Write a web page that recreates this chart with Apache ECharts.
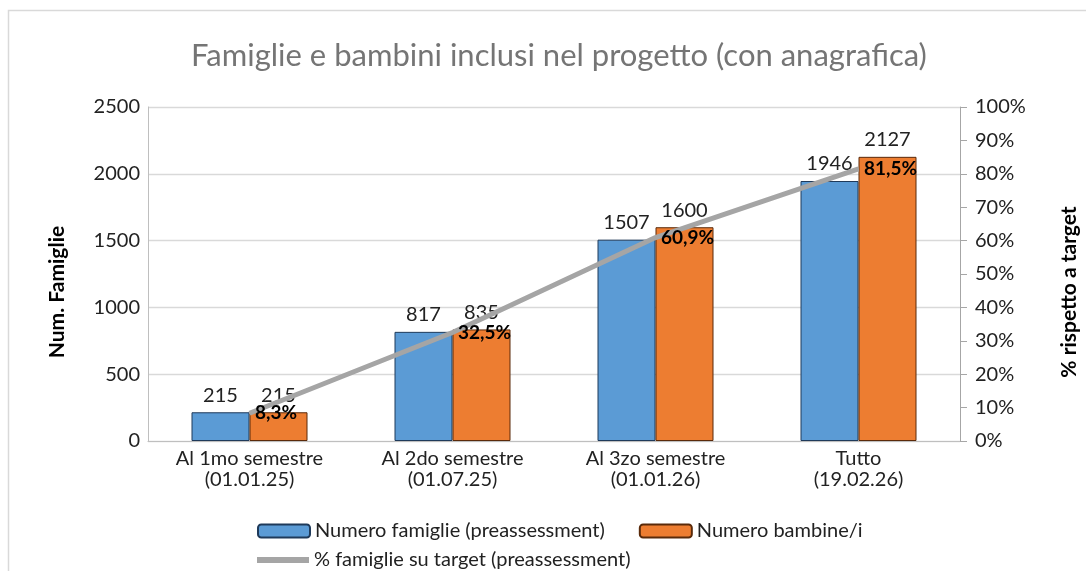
<!DOCTYPE html>
<html><head><meta charset="utf-8">
<script src="https://cdn.jsdelivr.net/npm/echarts@6/dist/echarts.min.js"></script>
<style>html,body{margin:0;padding:0;background:#fff}#c{width:1086px;height:571px}</style>
</head><body><div id="c"></div>
<script>
const categories = ['Al 1mo semestre\n(01.01.25)', 'Al 2do semestre\n(01.07.25)', 'Al 3zo semestre\n(01.01.26)', 'Tutto\n(19.02.26)'];
const famiglie = [215, 817, 1507, 1946];
const bambini = [215, 835, 1600, 2127];
const percentuale = [8.3, 32.5, 60.9, 81.5];
const leftTicks = [0, 2500, 500];
const rightTicks = [0, 100, 10];
const seriesNames = ['Numero famiglie (preassessment)', 'Numero bambine/i', '% famiglie su target (preassessment)'];
const axisNames = ['Num. Famiglie', '% rispetto a target'];
const titleText = 'Famiglie e bambini inclusi nel progetto (con anagrafica)';

const FONT = 'Lato';
const chart = echarts.init(document.getElementById('c'), null, {renderer: 'canvas'});
chart.setOption({
  animation: false,
  textStyle: {fontFamily: FONT},
  graphic: [
    {type: 'rect', shape: {x: 8.5, y: 10.5, width: 1100, height: 600}, style: {fill: 'none', stroke: '#d9d9d9', lineWidth: 1.5}, silent: true},
    {type: 'text', x: 57, y: 292, rotation: Math.PI / 2,
      style: {text: axisNames[0], font: 'bold 21px ' + FONT, fill: '#000', align: 'center', verticalAlign: 'middle'}},
    {type: 'text', x: 1069, y: 292, rotation: Math.PI / 2,
      style: {text: axisNames[1], font: 'bold 21px ' + FONT, fill: '#000', align: 'center', verticalAlign: 'middle'}}
  ],
  title: {text: titleText, left: 186, top: 35,
    textStyle: {fontFamily: FONT, fontSize: 31, fontWeight: 'normal', color: '#757575'}},
  grid: {left: 148, right: 126, top: 107, bottom: 130},
  legend: [
    {data: [seriesNames[0], seriesNames[1]], left: 252, top: 516, itemWidth: 52, itemHeight: 13, itemGap: 34,
      textStyle: {fontFamily: FONT, fontSize: 20, color: '#222'}},
    {data: [{name: seriesNames[2], icon: 'rect'}], left: 252, top: 545, itemWidth: 52, itemHeight: 6,
      textStyle: {fontFamily: FONT, fontSize: 20, color: '#222'}}
  ],
  xAxis: {type: 'category', data: categories,
    axisLine: {lineStyle: {color: '#bfbfbf', width: 1}}, axisTick: {show: false},
    axisLabel: {fontFamily: FONT, fontSize: 20, color: '#222', lineHeight: 21, margin: 7}},
  yAxis: [
    {type: 'value', min: leftTicks[0], max: leftTicks[1], interval: leftTicks[2],
      axisLine: {show: true, lineStyle: {color: '#bfbfbf'}}, axisTick: {show: false},
      axisLabel: {fontFamily: FONT, fontSize: 20, color: '#222', margin: 8, formatter: v => String(v)},
      splitLine: {lineStyle: {color: '#d9d9d9', width: 1.3}}},
    {type: 'value', min: rightTicks[0], max: rightTicks[1], interval: rightTicks[2], position: 'right',
      axisLine: {show: true, lineStyle: {color: '#a6a6a6'}},
      axisTick: {show: true, length: 7, lineStyle: {color: '#a6a6a6'}},
      axisLabel: {fontFamily: FONT, fontSize: 20, color: '#222', margin: 15, formatter: '{value}%'},
      splitLine: {show: false}}
  ],
  series: [
    {name: seriesNames[0], type: 'bar', data: famiglie, barWidth: 58, barGap: '0%',
      itemStyle: {color: '#5b9bd5', borderColor: '#1f3a5a', borderWidth: 1},
      label: {show: true, position: 'top', distance: 7, fontFamily: FONT, fontSize: 20, color: '#222'}},
    {name: seriesNames[1], type: 'bar', data: bambini, barWidth: 58,
      itemStyle: {color: '#ed7d31', borderColor: '#5a2a0a', borderWidth: 1},
      label: {show: true, position: 'top', distance: 7, fontFamily: FONT, fontSize: 20, color: '#222'}},
    {name: seriesNames[2], type: 'line', yAxisIndex: 1, data: percentuale,
      symbol: 'circle', symbolSize: 1, showSymbol: true,
      lineStyle: {color: '#a5a5a5', width: 5}, itemStyle: {color: '#a5a5a5'},
      z: 2,
      label: {show: true, position: 'right', distance: 5, fontFamily: FONT, fontSize: 19, fontWeight: 'bold', color: '#000',
        formatter: p => p.value.toFixed(1).replace('.', ',') + '%'}}
  ]
});
</script></body></html>
